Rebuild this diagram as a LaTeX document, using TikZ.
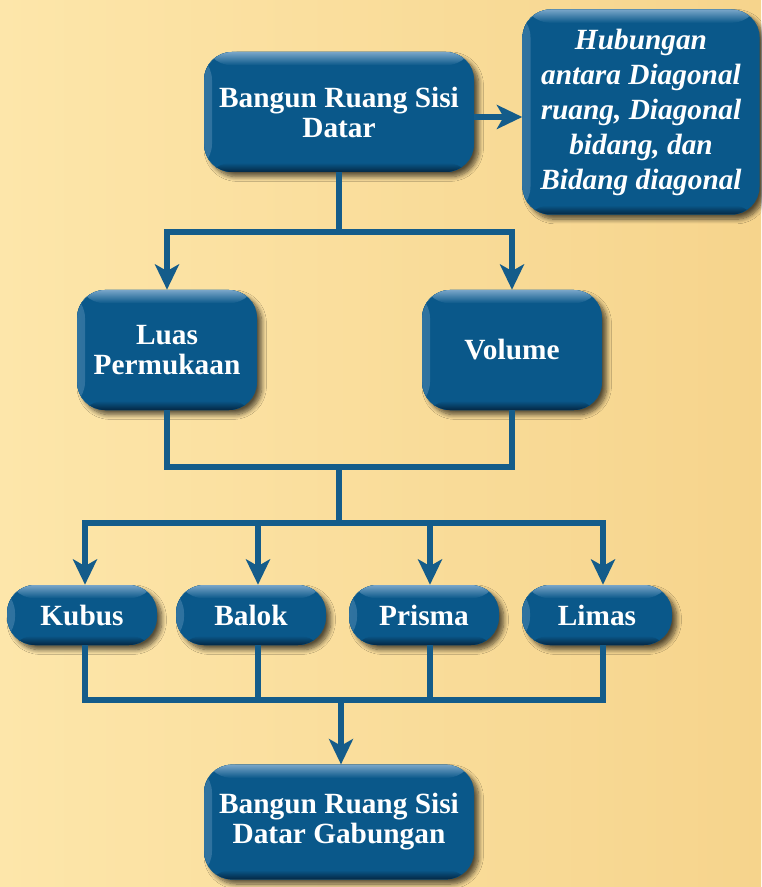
\documentclass[tikz,border=0pt]{standalone}
\usepackage{fontspec}
\setmainfont{Liberation Serif}
\usetikzlibrary{arrows.meta,shadows.blur}
\definecolor{bgleft}{RGB}{253,230,170}
\definecolor{bgright}{RGB}{246,212,140}
\definecolor{boxblue}{RGB}{10,88,138}
\definecolor{boxlight}{RGB}{120,165,200}
\definecolor{boxdark}{RGB}{4,40,68}
\definecolor{linecol}{RGB}{20,92,138}
\tikzset{
  bx/.style={rounded corners=21pt, fill=boxblue, draw=none, text=white,
    font=\bfseries\fontsize{22}{22.5}\selectfont, align=center, inner sep=2pt,
    blur shadow={shadow xshift=3.5pt, shadow yshift=-3.5pt, shadow opacity=65, shadow blur steps=8, shadow blur radius=3.5pt},
    path picture={
      \fill[left color=boxlight!35!boxblue, right color=boxblue] (path picture bounding box.south west) rectangle ([xshift=6pt]path picture bounding box.north west);
      \fill[top color=boxlight, bottom color=boxblue] (path picture bounding box.north west) rectangle ([yshift=-10pt]path picture bounding box.north east);
      \fill[top color=boxblue, bottom color=boxdark] ([yshift=7pt]path picture bounding box.south west) rectangle (path picture bounding box.south east);
    }},
  big/.style={bx, minimum width=202.5pt, minimum height=90pt},
  mid/.style={bx, minimum width=135pt, minimum height=90pt},
  small/.style={bx, minimum width=112.5pt, minimum height=45pt},
  conn/.style={draw=linecol, line width=4.5pt},
  arr/.style={conn, -{Stealth[length=19pt, width=18pt, inset=5pt]}},
}
\begin{document}
\begin{tikzpicture}[x=0.75pt, y=-0.75pt]
\shade[left color=bgleft, right color=bgright] (0,0) rectangle (761,887);
\useasboundingbox (0,0) rectangle (761,887);

\node[big] (top) at (339,112) {Bangun Ruang Sisi\\Datar};
\node[bx, minimum width=177.75pt, minimum height=153.75pt, font=\bfseries\itshape\fontsize{22}{26.25}\selectfont] (hub) at (641,112) {Hubungan\\antara Diagonal\\ruang, Diagonal\\bidang, dan\\Bidang diagonal};
\node[mid] (luas) at (167,350) {Luas\\Permukaan};
\node[mid] (vol) at (512,350) {Volume};
\node[small] (kubus) at (82,615) {Kubus};
\node[small] (balok) at (251,615) {Balok};
\node[small] (prisma) at (424,615) {Prisma};
\node[small] (limas) at (597,615) {Limas};
\node[big, minimum height=86pt] (gab) at (339,822) {Bangun Ruang Sisi\\Datar Gabungan};

% top -> hub
\draw[arr] (top.east |- 0,117) -- (hub.west |- 0,117);

% top -> luas, vol
\coordinate (j1) at (339,232);
\coordinate (j1l) at (167,232);
\coordinate (j1r) at (512,232);
\draw[conn] (top.south) -- (j1);
\draw[conn, line cap=rect] (j1l) -- (j1r);
\draw[arr] (j1l) -- (luas.north);
\draw[arr] (j1r) -- (vol.north);

% luas, vol -> solids
\coordinate (j2l) at (167,467);
\coordinate (j2r) at (512,467);
\coordinate (j2) at (339,467);
\coordinate (j3) at (339,523);
\coordinate (a1) at (85,523);
\coordinate (a2) at (258,523);
\coordinate (a3) at (430,523);
\coordinate (a4) at (603,523);
\draw[conn] (luas.south) -- (j2l);
\draw[conn] (vol.south) -- (j2r);
\draw[conn, line cap=rect] (j2l) -- (j2r);
\draw[conn] (j2) -- (j3);
\draw[conn, line cap=rect] (a1) -- (a4);
\draw[arr] (a1) -- (a1 |- kubus.north);
\draw[arr] (a2) -- (a2 |- balok.north);
\draw[arr] (a3) -- (a3 |- prisma.north);
\draw[arr] (a4) -- (a4 |- limas.north);

% solids -> gabungan
\coordinate (b1) at (85,700);
\coordinate (b2) at (258,700);
\coordinate (b3) at (430,700);
\coordinate (b4) at (603,700);
\coordinate (b0) at (341,700);
\draw[conn] (b1 |- kubus.south) -- (b1);
\draw[conn] (b2 |- balok.south) -- (b2);
\draw[conn] (b3 |- prisma.south) -- (b3);
\draw[conn] (b4 |- limas.south) -- (b4);
\draw[conn, line cap=rect] (b1) -- (b4);
\draw[arr] (b0) -- (b0 |- gab.north);
\end{tikzpicture}
\end{document}
